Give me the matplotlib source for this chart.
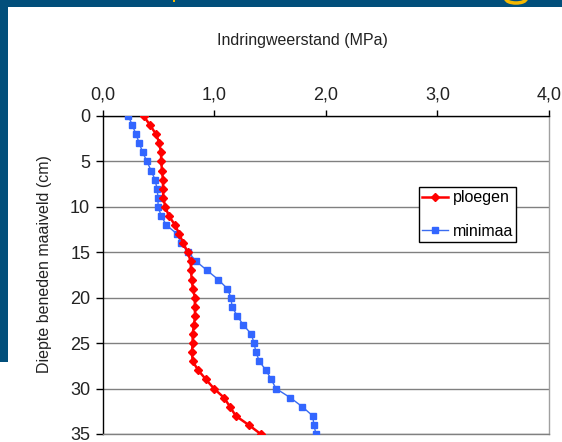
import matplotlib
matplotlib.use("Agg")
import matplotlib.pyplot as plt
from matplotlib.patches import Rectangle, Arc
from matplotlib.ticker import FuncFormatter
from matplotlib import font_manager

depth = list(range(0, 36))
ploegen = [0.367, 0.424, 0.478, 0.508, 0.522, 0.525, 0.531, 0.540, 0.540, 0.543,
           0.561, 0.593, 0.648, 0.687, 0.722, 0.762, 0.789, 0.791, 0.798, 0.808,
           0.827, 0.825, 0.828, 0.818, 0.806, 0.806, 0.800, 0.806, 0.857, 0.926,
           0.997, 1.087, 1.141, 1.192, 1.308, 1.416]
minimaa = [0.230, 0.265, 0.298, 0.328, 0.358, 0.397, 0.433, 0.469, 0.487, 0.496,
           0.496, 0.525, 0.570, 0.668, 0.702, 0.767, 0.838, 0.936, 1.035, 1.117,
           1.150, 1.159, 1.206, 1.260, 1.332, 1.356, 1.374, 1.404, 1.464, 1.511,
           1.553, 1.681, 1.789, 1.882, 1.893, 1.911]
xticks = [0, 1, 2, 3, 4]
yticks = [0, 5, 10, 15, 20, 25, 30, 35]

names = {f.name for f in font_manager.fontManager.ttflist}
fam = 'Liberation Sans Narrow' if 'Liberation Sans Narrow' in names else 'Liberation Sans'
narrow = fam == 'Liberation Sans Narrow'
plt.rcParams['font.family'] = [fam, 'DejaVu Sans']
fs_tick = 14 if narrow else 13
fs_lab = 13 if narrow else 11.5
fs_leg = 13 if narrow else 11.5

W, H = 562, 442
fig = plt.figure(figsize=(W / 100, H / 100), dpi=100)
fig.patch.set_facecolor('white')

band = '#024f7b'
fig.patches.append(Rectangle((0, 1 - 7 / H), 1, 7 / H, transform=fig.transFigure,
                             facecolor=band, edgecolor='none', zorder=0))
fig.patches.append(Rectangle((0, 1 - 362 / H), 8 / W, 362 / H, transform=fig.transFigure,
                             facecolor=band, edgecolor='none', zorder=0))
fig.patches.append(Arc((516 / W, 1 + 1 / H), 20 / W, 8 / H, theta1=180, theta2=360,
                       transform=fig.transFigure, color='#f5b800', lw=2.5, zorder=1))
fig.patches.append(Rectangle((173 / W, 1 - 2 / H), 2 / W, 2 / H, transform=fig.transFigure,
                             facecolor='#f5b800', edgecolor='none', zorder=1))

ax = fig.add_axes([102.7 / W, 1 - 434 / H, (549 - 102.7) / W, (434 - 116) / H])
ax.plot(ploegen, depth, color='#ff0000', lw=1.8, marker='D', ms=4.2,
        mfc='#ff0000', mec='#ff0000', label='ploegen', zorder=4)
ax.plot(minimaa, depth, color='#3a6cf0', lw=1.0, marker='s', ms=4.6,
        mfc='#3366ff', mec='#3366ff', label='minimaa', zorder=3)

ax.set_xlim(0, 4)
ax.set_ylim(35, 0)
ax.set_xticks(xticks)
ax.set_yticks(yticks)
ax.xaxis.set_major_formatter(FuncFormatter(lambda v, p: f"{v:.1f}".replace('.', ',')))
ax.xaxis.tick_top()
ax.xaxis.set_label_position('top')
ax.tick_params(axis='x', direction='out', length=4, width=1, labelsize=fs_tick, pad=5, colors='black')
ax.tick_params(axis='y', direction='out', length=5, width=1, labelsize=fs_tick, pad=4, colors='black')
for t in ax.get_xticklabels() + ax.get_yticklabels():
    t.set_color('#222222')
ax.grid(axis='y', color='#808080', lw=1)
ax.set_axisbelow(True)
ax.spines['top'].set_color('black')
ax.spines['left'].set_color('black')
ax.spines['right'].set_color('#a0a0a0')
ax.spines['bottom'].set_color('#808080')
for s in ax.spines.values():
    s.set_linewidth(1)

fig.text(302 / W, 1 - 40 / H, 'Indringweerstand (MPa)', ha='center', va='center',
         fontsize=fs_lab, color='#222222')
fig.text(45 / W, 1 - 264 / H, 'Diepte beneden maaiveld (cm)', ha='center', va='center',
         rotation=90, fontsize=fs_lab, color='#222222')

leg = ax.legend(loc='upper left', bbox_to_anchor=(419 / W, 1 - 187 / H),
                bbox_transform=fig.transFigure, fontsize=fs_leg, frameon=True,
                fancybox=False, edgecolor='black', labelspacing=1.15,
                handlelength=1.6, handletextpad=0.3, borderpad=0.2,
                borderaxespad=0)
leg.get_frame().set_linewidth(1)
leg.get_frame().set_facecolor('white')
leg.get_frame().set_alpha(1)

fig.savefig('out.png', dpi=100, facecolor='white')
